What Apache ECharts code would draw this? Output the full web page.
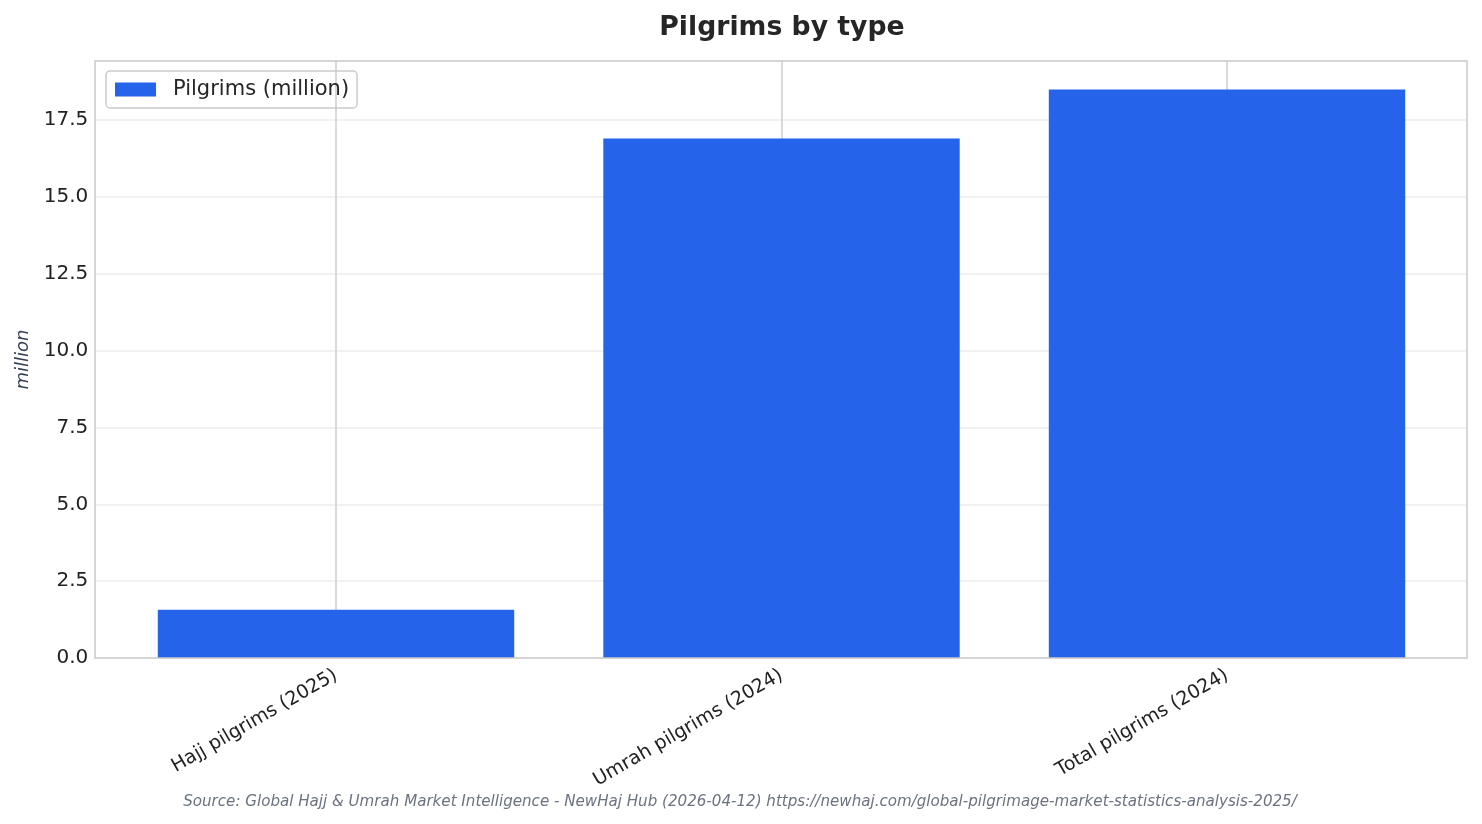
<!DOCTYPE html>
<html>
<head>
<meta charset="utf-8">
<script src="https://cdn.jsdelivr.net/npm/echarts@6/dist/echarts.min.js"></script>
<style>
  html, body { margin: 0; padding: 0; background: #fff; }
  #chart { width: 1482px; height: 824px; }
</style>
</head>
<body>
<div id="chart"></div>
<script>
// data
var categories = ['Hajj pilgrims (2025)', 'Umrah pilgrims (2024)', 'Total pilgrims (2024)'];
var pilgrims = [1.57, 16.9, 18.5];
var seriesName = 'Pilgrims (million)';
var yMax = 19.425;
var yStep = 2.5;
var sourceText = 'Source: Global Hajj & Umrah Market Intelligence - NewHaj Hub (2026-04-12) https://newhaj.com/global-pilgrimage-market-statistics-analysis-2025/';

var font = 'DejaVu Sans';
var myChart = echarts.init(document.getElementById('chart'));

var option = {
    backgroundColor: '#ffffff',
    animation: false,
    textStyle: { fontFamily: font },
    title: [{
        text: 'Pilgrims by type',
        left: 777,
        textAlign: 'center',
        top: 10,
        textStyle: { fontFamily: font, fontSize: 26.7, fontWeight: 'bold', color: '#262626' }
    }, {
        text: sourceText,
        left: 735,
        textAlign: 'center',
        top: 790,
        textStyle: { fontFamily: font, fontSize: 15.1, fontStyle: 'italic', fontWeight: 'normal', color: '#6b7280' }
    }],
    legend: {
        data: [seriesName],
        left: 106,
        top: 71,
        padding: [8, 8, 8, 9],
        itemWidth: 41,
        itemHeight: 14,
        icon: 'rect',
        borderColor: '#cccccc',
        borderWidth: 1.5,
        borderRadius: 4,
        textStyle: { fontFamily: font, fontSize: 21, color: '#262626', padding: [0, 0, 0, 12] }
    },
    // frame around the plot area
    graphic: [{
        type: 'rect',
        z: 100,
        silent: true,
        shape: { x: 95, y: 61, width: 1372, height: 597 },
        style: { fill: 'none', stroke: '#cccccc', lineWidth: 1.6 }
    }],
    grid: [{
        // bars: bands spaced like the reference
        left: 113.25,
        right: 32.25,
        top: 61,
        bottom: 166
    }, {
        // full-width plot area for horizontal grid lines
        left: 95,
        right: 15,
        top: 61,
        bottom: 166
    }],
    xAxis: [{
        type: 'category',
        gridIndex: 0,
        data: categories,
        axisLine: { show: false },
        axisTick: { show: false },
        splitLine: {
            show: true,
            alignWithLabel: true,
            lineStyle: { color: '#cccccc', width: 1.5 }
        },
        axisLabel: {
            interval: 0,
            rotate: 30,
            margin: 16,
            fontFamily: font,
            fontSize: 19,
            color: '#222222'
        }
    }, {
        type: 'value',
        gridIndex: 1,
        show: false
    }],
    yAxis: [{
        type: 'value',
        gridIndex: 0,
        min: 0,
        max: yMax,
        interval: yStep,
        name: 'million',
        nameLocation: 'middle',
        nameGap: 80,
        nameTextStyle: { fontFamily: font, fontSize: 18, fontStyle: 'italic', color: '#334155' },
        axisLine: { show: false },
        axisTick: { show: false },
        splitLine: { show: false },
        axisLabel: {
            margin: 25,
            showMaxLabel: false,
            fontFamily: font,
            fontSize: 20,
            color: '#222222',
            formatter: function (v) { return v.toFixed(1); }
        }
    }, {
        type: 'value',
        gridIndex: 1,
        min: 0,
        max: yMax,
        interval: yStep,
        axisLine: { show: false },
        axisTick: { show: false },
        axisLabel: { show: false },
        splitLine: { show: true, lineStyle: { color: '#ececec', width: 1.5 } }
    }],
    series: [{
        name: seriesName,
        type: 'bar',
        xAxisIndex: 0,
        yAxisIndex: 0,
        barWidth: '80%',
        itemStyle: { color: '#2563eb' },
        data: pilgrims
    }]
};
myChart.setOption(option);
</script>
</body>
</html>
